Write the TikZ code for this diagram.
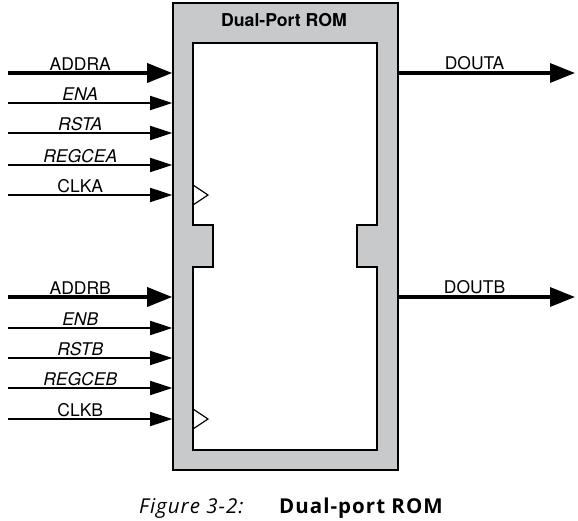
\documentclass[tikz,border=0pt]{standalone}
\usepackage{fontspec}
\setmainfont{TeX Gyre Heros}
\newfontfamily\capfont[LetterSpace=5]{Open Sans}
\usetikzlibrary{arrows.meta}
\definecolor{romgray}{RGB}{200,201,203}
\tikzset{
  sig/.style={line width=1.8pt,-{Triangle[length=22pt,width=14pt]}},
  bus/.style={line width=3.4pt,-{Triangle[length=25pt,width=19pt]}},
  lbl/.style={above,inner sep=1.2pt,font=\fontsize{17.5}{20}\selectfont},
}
\begin{document}
\begin{tikzpicture}[x=1pt,y=-1pt]
\path (0,0) rectangle (578,521);
% outer block and memory core
\node[draw,line width=1.6pt,fill=romgray,minimum width=225pt,minimum height=467pt,inner sep=0pt]
  (rom) at (285.5,236.5) {};
\node[font=\bfseries\fontsize{17.7}{20}\selectfont] (title) at (284,20) {Dual-Port ROM};
\draw[line width=1.6pt,fill=white] (193,43) -- (377,43) -- (377,225) -- (357,225) -- (357,267)
  -- (377,267) -- (377,450) -- (193,450) -- (193,267) -- (213,267) -- (213,225) -- (193,225) -- cycle;
\draw[line width=1.2pt] (193,185) -- (208,195) -- (193,205);
\draw[line width=1.2pt] (193,409) -- (208,419) -- (193,429);
% port A
\coordinate (addra) at (8,73);
\coordinate (ena) at (8,103);
\coordinate (rsta) at (8,133);
\coordinate (regcea) at (8,165);
\coordinate (clka) at (8,195);
\draw[bus] (addra) -- (addra -| rom.west) node[lbl,pos=0.44] {ADDRA};
\draw[sig] (ena) -- (ena -| rom.west) node[lbl,pos=0.44] {\itshape ENA};
\draw[sig] (rsta) -- (rsta -| rom.west) node[lbl,pos=0.44] {\itshape RSTA};
\draw[sig] (regcea) -- (regcea -| rom.west) node[lbl,pos=0.44] {\itshape REGCEA};
\draw[sig] (clka) -- (clka -| rom.west) node[lbl,pos=0.44] {CLKA};
% port B
\coordinate (addrb) at (8,297);
\coordinate (enb) at (8,328);
\coordinate (rstb) at (8,358);
\coordinate (regceb) at (8,388);
\coordinate (clkb) at (8,419);
\draw[bus] (addrb) -- (addrb -| rom.west) node[lbl,pos=0.44] {ADDRB};
\draw[sig] (enb) -- (enb -| rom.west) node[lbl,pos=0.44] {\itshape ENB};
\draw[sig] (rstb) -- (rstb -| rom.west) node[lbl,pos=0.44] {\itshape RSTB};
\draw[sig] (regceb) -- (regceb -| rom.west) node[lbl,pos=0.44] {\itshape REGCEB};
\draw[sig] (clkb) -- (clkb -| rom.west) node[lbl,pos=0.44] {CLKB};
% outputs
\coordinate (douta) at (575,73);
\coordinate (doutb) at (575,297);
\draw[bus] (douta -| rom.east) -- (douta) node[lbl,pos=0.43] {DOUTA};
\draw[bus] (doutb -| rom.east) -- (doutb) node[lbl,pos=0.43] {DOUTB};
% caption
\node[anchor=base west,inner sep=0pt,font=\capfont\itshape\fontsize{20.5}{24}\selectfont] (fignum) at (139,513) {Figure 3-2:};
\node[anchor=base west,inner sep=0pt,font=\capfont\bfseries\fontsize{20.5}{24}\selectfont] (figname) at (279,513) {Dual-port ROM};
\end{tikzpicture}
\end{document}
